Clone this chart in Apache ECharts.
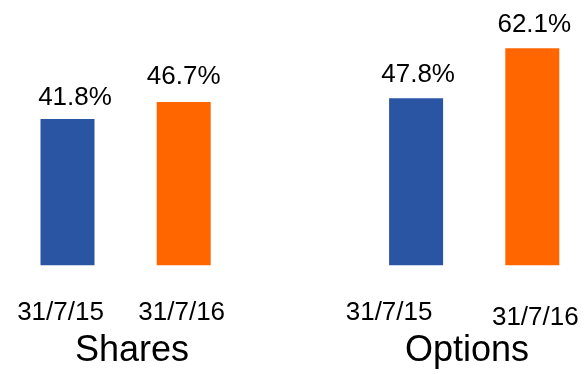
<!DOCTYPE html>
<html>
<head>
<meta charset="utf-8">
<script src="https://cdn.jsdelivr.net/npm/echarts@6/dist/echarts.min.js"></script>
<style>
  html, body { margin: 0; padding: 0; background: #fff; }
  #chart { width: 584px; height: 374px; }
</style>
</head>
<body>
<div id="chart"></div>
<script>
const groups = ['Shares', 'Options'];
const dates = ['31/7/15', '31/7/16'];
const sharesValues = [41.8, 46.7];
const optionsValues = [47.8, 62.1];

const FONT = '"Liberation Sans", Arial, sans-serif';
const BLUE = '#2A55A2';
const ORANGE = '#FF6600';

// small hand nudges so labels sit where the original slide put them
const valueNudge = [[7.5, -8], [0, -12], [2, -10], [2, -10]];
const tickNudge = [[-7, 0], [-2, 0], [-27, 0], [3, 5]];

// one band per bar, an empty band between the two groups
const cats = [];
const blue = [];
const orange = [];
const groupValues = [sharesValues, optionsValues];
groups.forEach((g, gi) => {
  if (gi > 0) { cats.push(''); blue.push('-'); orange.push('-'); }
  dates.forEach((d, di) => {
    cats.push(g + '|' + d);
    const v = groupValues[gi][di];
    const k = gi * 2 + di;
    const item = {
      value: v,
      label: { offset: valueNudge[k] }
    };
    blue.push(di === 0 ? item : '-');
    orange.push(di === 1 ? item : '-');
  });
});

const rich = {};
const labelStyle = k => {
  const [dx, dy] = tickNudge[k];
  return {
    fontSize: 26, fontFamily: FONT, color: '#000',
    padding: [dy, dx < 0 ? -2 * dx : 0, 0, dx > 0 ? 2 * dx : 0]
  };
};
for (let k = 0; k < 4; k++) rich['t' + k] = labelStyle(k);

const chart = echarts.init(document.getElementById('chart'));
chart.setOption({
  animation: false,
  title: groups.map((g, gi) => ({
    text: g,
    left: gi === 0 ? 132 : 467,
    top: 333,
    padding: 0,
    textAlign: 'center',
    textStyle: { fontSize: 36, fontWeight: 'normal', fontFamily: FONT, color: '#000' }
  })),
  grid: { left: 9.4, right: -6.4, top: 20.5, bottom: 108.7, outerBoundsMode: 'none', containLabel: false },
  xAxis: {
    type: 'category',
    data: cats,
    axisLine: { show: false },
    axisTick: { show: false },
    axisLabel: {
      interval: 0,
      margin: 35,
      hideOverlap: false,
      formatter: (val, idx) => {
        if (!val) return '';
        const k = idx > 2 ? idx - 1 : idx;
        return '{t' + k + '|' + val.split('|')[1] + '}';
      },
      rich: rich
    }
  },
  yAxis: { type: 'value', min: 0, max: 70, show: false, splitLine: { show: false } },
  series: [
    {
      name: dates[0], type: 'bar', stack: 'g', barWidth: 54,
      itemStyle: { color: BLUE },
      label: { show: true, position: 'top', distance: 0, formatter: p => p.value + '%',
               fontSize: 26, fontFamily: FONT, color: '#000' },
      data: blue
    },
    {
      name: dates[1], type: 'bar', stack: 'g', barWidth: 54,
      itemStyle: { color: ORANGE },
      label: { show: true, position: 'top', distance: 0, formatter: p => p.value + '%',
               fontSize: 26, fontFamily: FONT, color: '#000' },
      data: orange
    }
  ]
});
</script>
</body>
</html>
